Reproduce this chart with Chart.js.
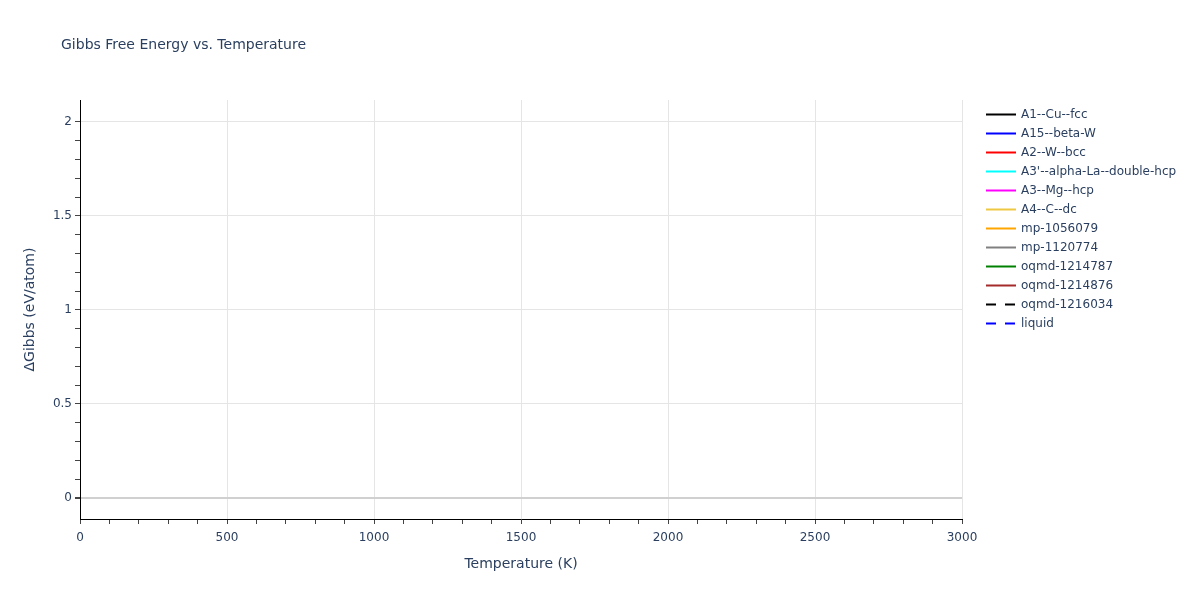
<!DOCTYPE html>
<html>
<head>
<meta charset="UTF-8" />
<title>Gibbs Free Energy vs. Temperature</title>
<script src="https://cdn.jsdelivr.net/npm/chart.js"></script>
<style>
  body { margin: 0; background: #fff; }
  #wrap { width: 1200px; height: 600px; }
</style>
</head>
<body>
<div id="wrap"><canvas id="gibbsChart" width="1200" height="600"></canvas></div>
<script>
// phases shown in the legend; the source figure has no visible curves,
// so every series is empty
const phaseNames = [
  "A1--Cu--fcc", "A15--beta-W", "A2--W--bcc", "A3'--alpha-La--double-hcp",
  "A3--Mg--hcp", "A4--C--dc", "mp-1056079", "mp-1120774",
  "oqmd-1214787", "oqmd-1214876", "oqmd-1216034", "liquid"
];
const phaseColors = [
  "#000000", "#0000ff", "#ff0000", "#00ffff",
  "#ff00ff", "#eec843", "#ffa500", "#808080",
  "#008000", "#a52a2a", "#000000", "#0000ff"
];
const phaseDashed = [false, false, false, false, false, false, false, false, false, false, true, true];

// temperature (K) and ΔG (eV/atom) per phase
const temperatures = [];
const gibbsValues = [[], [], [], [], [], [], [], [], [], [], [], []];

const xRange = [0, 3000];
const yRange = [-0.112, 2.117];

const textColor = "#2a3f5f";
const fontFamily = "'DejaVu Sans', Verdana, sans-serif";

const datasets = phaseNames.map((name, i) => ({
  label: name,
  data: gibbsValues[i].map((g, j) => ({ x: temperatures[j], y: g })),
  borderColor: phaseColors[i],
  backgroundColor: phaseColors[i],
  borderWidth: 2,
  borderDash: phaseDashed[i] ? [10, 9] : [],
  pointRadius: 0,
  fill: false,
  showLine: true
}));

// plotly-style title (top left) and legend (right of the plot)
const decorPlugin = {
  id: "decor",
  afterDraw(chart) {
    const c = chart.ctx;
    const area = chart.chartArea;
    c.save();
    c.fillStyle = textColor;
    c.textBaseline = "middle";
    c.font = "14px " + fontFamily;
    c.fillText("Gibbs Free Energy vs. Temperature", 61, 45);

    c.font = "12px " + fontFamily;
    const x0 = area.right + 24;
    chart.data.datasets.forEach((ds, i) => {
      const y = area.top + 14.5 + i * 19;
      c.beginPath();
      c.setLineDash(ds.borderDash);
      c.lineWidth = ds.borderWidth;
      c.strokeStyle = ds.borderColor;
      c.moveTo(x0, y);
      c.lineTo(x0 + 30, y);
      c.stroke();
      c.setLineDash([]);
      c.fillText(ds.label, x0 + 35, y);
    });
    c.restore();
  }
};

const isStep = (v, step) => Math.abs(Math.round(v / step) * step - v) < 1e-6;

new Chart(document.getElementById("gibbsChart"), {
  type: "scatter",
  data: { datasets },
  plugins: [decorPlugin],
  options: {
    responsive: false,
    animation: false,
    layout: { padding: { top: 100, right: 238, bottom: 0, left: 0 } },
    plugins: {
      title: { display: false },
      legend: { display: false },
      tooltip: { enabled: false }
    },
    scales: {
      x: {
        type: "linear",
        min: xRange[0],
        max: xRange[1],
        border: { display: true, color: "#000000", width: 1 },
        grid: {
          color: (ctx) => isStep(ctx.tick.value, 500) ? "#e5e5e5" : "rgba(0,0,0,0)",
          tickColor: "#444444",
          tickLength: 5
        },
        ticks: {
          stepSize: 100,
          autoSkip: false,
          maxRotation: 0,
          padding: 7,
          color: textColor,
          font: { family: fontFamily, size: 12 },
          callback: (v) => isStep(v, 500) ? String(v) : ""
        },
        title: {
          display: true,
          text: "Temperature (K)",
          color: textColor,
          font: { family: fontFamily, size: 14 },
          padding: { top: 0, bottom: 27 }
        },
        afterFit(scale) { scale.height = 81; }
      },
      y: {
        type: "linear",
        min: yRange[0],
        max: yRange[1],
        border: { display: true, color: "#000000", width: 1 },
        grid: {
          color: (ctx) => {
            const v = ctx.tick.value;
            if (Math.abs(v) < 1e-6) return "#d0d0d0";
            return isStep(v, 0.5) ? "#e5e5e5" : "rgba(0,0,0,0)";
          },
          lineWidth: (ctx) => Math.abs(ctx.tick.value) < 1e-6 ? 2 : 1,
          tickColor: "#444444",
          tickLength: 5
        },
        ticks: {
          stepSize: 0.1,
          autoSkip: false,
          padding: 3,
          color: textColor,
          font: { family: fontFamily, size: 12 },
          callback: (v) => isStep(v, 0.5) ? String(Math.round(v * 10) / 10) : ""
        },
        afterBuildTicks(scale) {
          scale.ticks = scale.ticks.filter((t) => isStep(t.value, 0.1));
        },
        title: {
          display: true,
          text: "ΔGibbs (eV/atom)",
          color: textColor,
          font: { family: fontFamily, size: 14 },
          padding: { top: 22, bottom: 0 }
        },
        afterFit(scale) { scale.width = 80; }
      }
    }
  }
});
</script>
</body>
</html>
